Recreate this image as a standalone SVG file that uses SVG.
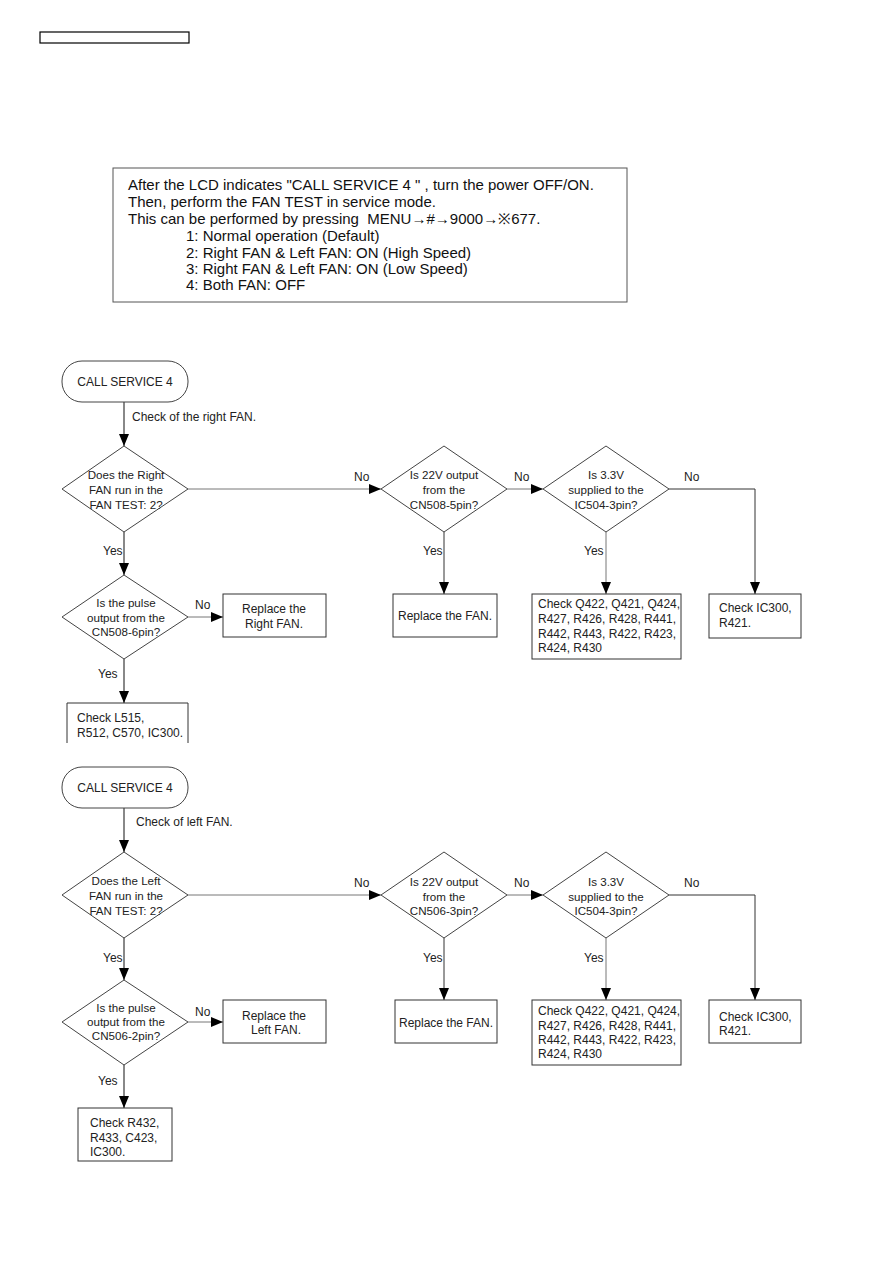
<svg xmlns="http://www.w3.org/2000/svg" width="893" height="1263" viewBox="0 0 893 1263">
<style>
text{font-family:"Liberation Sans",Arial,sans-serif;fill:#222;}
.t{font-size:12px;}
.d{font-size:11.6px;}
.c{text-anchor:middle;}
.info{font-size:15px;fill:#111;}
.shape{fill:#fff;stroke:#444;stroke-width:1;}
.box{fill:#fff;stroke:#333;stroke-width:1;}
.g{fill:none;stroke:#888;stroke-width:2;}
.k{fill:none;stroke:#333;stroke-width:1;}
.kg{fill:none;stroke:#777;stroke-width:1;}
</style>
<defs>
<marker id="ah" markerUnits="userSpaceOnUse" markerWidth="12" markerHeight="10" refX="12" refY="5" orient="auto">
<path d="M0,0 L12,5 L0,10 Z" fill="#000"/>
</marker>
</defs>
<rect width="893" height="1263" fill="#fff"/>
<rect x="40" y="32" width="149" height="11" fill="none" stroke="#000" stroke-width="1.2"/>

<g id="info">
<rect x="113" y="168" width="514" height="134" fill="#fff" stroke="#555" stroke-width="1"/>
<text class="info" x="128" y="190">After the LCD indicates "CALL SERVICE 4 " , turn the power OFF/ON.</text>
<text class="info" x="128" y="207">Then, perform the FAN TEST in service mode.</text>
<text class="info" x="128" y="224">This can be performed by pressing&#160; MENU→#→9000→※677.</text>
<text class="info" x="186" y="241">1: Normal operation (Default)</text>
<text class="info" x="186" y="258">2: Right FAN &amp; Left FAN: ON (High Speed)</text>
<text class="info" x="186" y="274">3: Right FAN &amp; Left FAN: ON (Low Speed)</text>
<text class="info" x="186" y="290">4: Both FAN: OFF</text>
</g>

<g id="connectors">
<!-- chart 1 -->
<line class="g" x1="124" y1="402" x2="124" y2="446" marker-end="url(#ah)"/>
<line class="kg" x1="188" y1="489" x2="381" y2="489" marker-end="url(#ah)"/>
<line class="kg" x1="507" y1="489" x2="543" y2="489" marker-end="url(#ah)"/>
<polyline class="k" points="669,489 755,489 755,594" marker-end="url(#ah)"/>
<line class="k" x1="444" y1="532" x2="444" y2="594" marker-end="url(#ah)"/>
<line class="kg" x1="606" y1="532" x2="606" y2="594" marker-end="url(#ah)"/>
<line class="g" x1="124" y1="532" x2="124" y2="575" marker-end="url(#ah)"/>
<line class="kg" x1="188" y1="617" x2="223" y2="617" marker-end="url(#ah)"/>
<line class="g" x1="124" y1="659" x2="124" y2="703" marker-end="url(#ah)"/>
<!-- chart 2 -->
<line class="g" x1="124" y1="808" x2="124" y2="852" marker-end="url(#ah)"/>
<line class="kg" x1="188" y1="895" x2="381" y2="895" marker-end="url(#ah)"/>
<line class="kg" x1="507" y1="895" x2="543" y2="895" marker-end="url(#ah)"/>
<polyline class="k" points="669,895 755,895 755,1000" marker-end="url(#ah)"/>
<line class="k" x1="444" y1="938" x2="444" y2="1000" marker-end="url(#ah)"/>
<line class="kg" x1="606" y1="938" x2="606" y2="1000" marker-end="url(#ah)"/>
<line class="g" x1="124" y1="938" x2="124" y2="980" marker-end="url(#ah)"/>
<line class="kg" x1="188" y1="1022" x2="223" y2="1022" marker-end="url(#ah)"/>
<line class="g" x1="124" y1="1065" x2="124" y2="1108" marker-end="url(#ah)"/>
</g>

<g id="labels">
<text class="t" x="132" y="421">Check of the right FAN.</text>
<text class="t" x="354" y="481">No</text>
<text class="t" x="514" y="481">No</text>
<text class="t" x="684" y="481">No</text>
<text class="t" x="423" y="555">Yes</text>
<text class="t" x="584" y="555">Yes</text>
<text class="t" x="103" y="555">Yes</text>
<text class="t" x="195" y="609">No</text>
<text class="t" x="98" y="678">Yes</text>
<text class="t" x="136" y="826">Check of left FAN.</text>
<text class="t" x="354" y="887">No</text>
<text class="t" x="514" y="887">No</text>
<text class="t" x="684" y="887">No</text>
<text class="t" x="423" y="962">Yes</text>
<text class="t" x="584" y="962">Yes</text>
<text class="t" x="103" y="962">Yes</text>
<text class="t" x="195" y="1016">No</text>
<text class="t" x="98" y="1085">Yes</text>
</g>

<!-- chart 1 nodes -->
<g id="start1">
<rect class="shape" x="62" y="361" width="126" height="41" rx="20" ry="20"/>
<text class="t c" x="125" y="386">CALL SERVICE 4</text>
</g>
<g id="d1a">
<polygon class="shape" points="124,446 188,489 124,532 62,489"/>
<text class="d c" x="126" y="479">Does the Right</text>
<text class="d c" x="126" y="494">FAN run in the</text>
<text class="d c" x="126" y="509">FAN TEST: 2?</text>
</g>
<g id="d2a">
<polygon class="shape" points="444,446 507,489 444,532 381,489"/>
<text class="d c" x="444" y="479">Is 22V output</text>
<text class="d c" x="444" y="494">from the</text>
<text class="d c" x="444" y="509">CN508-5pin?</text>
</g>
<g id="d3a">
<polygon class="shape" points="606,446 669,489 606,532 543,489"/>
<text class="d c" x="606" y="479">Is 3.3V</text>
<text class="d c" x="606" y="494">supplied to the</text>
<text class="d c" x="606" y="509">IC504-3pin?</text>
</g>
<g id="ic300a">
<rect class="box" x="709" y="594" width="92" height="44"/>
<text class="t" x="719" y="612">Check IC300,</text>
<text class="t" x="719" y="627">R421.</text>
</g>
<g id="fana">
<rect class="box" x="393" y="594" width="104" height="43"/>
<text class="t c" x="445" y="620">Replace the FAN.</text>
</g>
<g id="checkqa">
<rect class="box" x="532" y="594" width="149" height="65"/>
<text class="t" x="538" y="608">Check Q422, Q421, Q424,</text>
<text class="t" x="538" y="623">R427, R426, R428, R441,</text>
<text class="t" x="538" y="638">R442, R443, R422, R423,</text>
<text class="t" x="538" y="652">R424, R430</text>
</g>
<g id="d4a">
<polygon class="shape" points="124,575 188,617 124,659 62,617"/>
<text class="d c" x="126" y="607">Is the pulse</text>
<text class="d c" x="126" y="622">output from the</text>
<text class="d c" x="126" y="636">CN508-6pin?</text>
</g>
<g id="rfan">
<rect class="box" x="223" y="594" width="103" height="43"/>
<text class="t c" x="274" y="613">Replace the</text>
<text class="t c" x="274" y="628">Right FAN.</text>
</g>
<g id="checkla">
<path class="box" d="M67,743 L67,703 L188,703 L188,743" fill="#fff"/>
<text class="t" x="77" y="722">Check L515,</text>
<text class="t" x="77" y="737">R512, C570, IC300.</text>
</g>

<!-- chart 2 nodes -->
<g id="start2">
<rect class="shape" x="62" y="767" width="126" height="41" rx="20" ry="20"/>
<text class="t c" x="125" y="792">CALL SERVICE 4</text>
</g>
<g id="d1b">
<polygon class="shape" points="124,852 188,895 124,938 62,895"/>
<text class="d c" x="126" y="885">Does the Left</text>
<text class="d c" x="126" y="900">FAN run in the</text>
<text class="d c" x="126" y="915">FAN TEST: 2?</text>
</g>
<g id="d2b">
<polygon class="shape" points="444,852 507,895 444,938 381,895"/>
<text class="d c" x="444" y="886">Is 22V output</text>
<text class="d c" x="444" y="901">from the</text>
<text class="d c" x="444" y="915">CN506-3pin?</text>
</g>
<g id="d3b">
<polygon class="shape" points="606,852 669,895 606,938 543,895"/>
<text class="d c" x="606" y="886">Is 3.3V</text>
<text class="d c" x="606" y="901">supplied to the</text>
<text class="d c" x="606" y="915">IC504-3pin?</text>
</g>
<g id="ic300b">
<rect class="box" x="709" y="1000" width="92" height="43"/>
<text class="t" x="719" y="1021">Check IC300,</text>
<text class="t" x="719" y="1035">R421.</text>
</g>
<g id="fanb">
<rect class="box" x="395" y="1000" width="102" height="43"/>
<text class="t c" x="446" y="1027">Replace the FAN.</text>
</g>
<g id="checkqb">
<rect class="box" x="532" y="1000" width="149" height="65"/>
<text class="t" x="538" y="1015">Check Q422, Q421, Q424,</text>
<text class="t" x="538" y="1030">R427, R426, R428, R441,</text>
<text class="t" x="538" y="1044">R442, R443, R422, R423,</text>
<text class="t" x="538" y="1058">R424, R430</text>
</g>
<g id="d4b">
<polygon class="shape" points="124,980 188,1022 124,1065 62,1022"/>
<text class="d c" x="126" y="1012">Is the pulse</text>
<text class="d c" x="126" y="1026">output from the</text>
<text class="d c" x="126" y="1040">CN506-2pin?</text>
</g>
<g id="lfan">
<rect class="box" x="223" y="1000" width="103" height="43"/>
<text class="t c" x="274" y="1020">Replace the</text>
<text class="t c" x="276" y="1034">Left FAN.</text>
</g>
<g id="checklb">
<rect class="box" x="78" y="1108" width="94" height="53"/>
<text class="t" x="90" y="1127">Check R432,</text>
<text class="t" x="90" y="1142">R433, C423,</text>
<text class="t" x="90" y="1156">IC300.</text>
</g>
</svg>
